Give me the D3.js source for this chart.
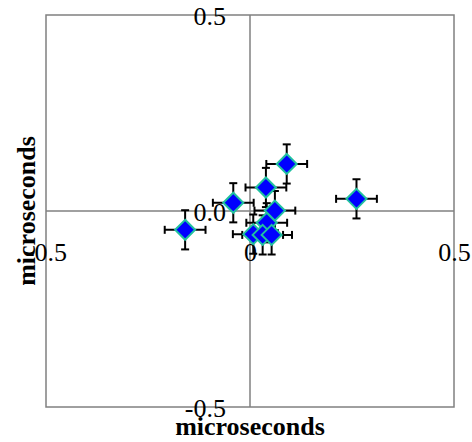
<!DOCTYPE html>
<html>
<head>
<meta charset="utf-8">
<script src="https://cdn.jsdelivr.net/npm/d3@7"></script>
<style>
  body { margin: 0; background: #fff; }
  svg { display: block; }
</style>
</head>
<body>
<div id="container"></div>
<script>
"use strict";

// Point positions (microseconds) and their errors.
const xValues = [-0.159, -0.041, 0.039, 0.090, 0.261, 0.061, 0.041, 0.008, 0.031, 0.053];
const yValues = [-0.048, 0.021, 0.060, 0.120, 0.031, 0.001, -0.030, -0.059, -0.061, -0.061];
const xErrors = [0.05, 0.05, 0.05, 0.05, 0.05, 0.05, 0.05, 0.05, 0.05, 0.05];
const yErrors = [0.05, 0.05, 0.05, 0.05, 0.05, 0.05, 0.05, 0.05, 0.05, 0.05];

const xTicks = [-0.5, 0, 0.5];
const xTickLabels = ["-0.5", "0", "0.5"];
const yTicks = [-0.5, 0, 0.5];
const yTickLabels = ["-0.5", "0.0", "0.5"];
const axisTitle = "microseconds";

const width = 472;
const height = 442;
const font = "'Liberation Serif', 'Times New Roman', serif";
const gridColor = "#808080";

const svg = d3.create("svg").attr("width", width).attr("height", height);
d3.select("#container").append(() => svg.node());

const x = d3.scaleLinear().domain([-0.5, 0.5]).range([46, 454]);
const y = d3.scaleLinear().domain([-0.5, 0.5]).range([407, 15]);

// Frame and the two zero lines.
svg.append("rect")
  .attr("x", x(-0.5))
  .attr("y", y(0.5))
  .attr("width", x(0.5) - x(-0.5))
  .attr("height", y(-0.5) - y(0.5))
  .attr("fill", "none")
  .attr("stroke", gridColor)
  .attr("stroke-width", 1.5);

svg.append("line")
  .attr("x1", x(0)).attr("x2", x(0))
  .attr("y1", y(0.5)).attr("y2", y(-0.5))
  .attr("stroke", gridColor).attr("stroke-width", 1.5);

svg.append("line")
  .attr("x1", x(-0.5)).attr("x2", x(0.5))
  .attr("y1", y(0)).attr("y2", y(0))
  .attr("stroke", gridColor).attr("stroke-width", 1.5);

// Tick labels, positioned off the zero lines.
const yAxis = d3.axisLeft(y)
  .tickValues(yTicks)
  .tickFormat((d, i) => yTickLabels[i])
  .tickSize(0)
  .tickPadding(24);

svg.append("g")
  .attr("transform", `translate(${x(0)}, 0)`)
  .call(yAxis)
  .call((g) => g.select(".domain").remove())
  .selectAll("text")
  .attr("dy", "0.36em")
  .style("font-family", font)
  .style("font-size", "26px")
  .attr("fill", "#000");

const xAxis = d3.axisBottom(x)
  .tickValues(xTicks)
  .tickFormat((d, i) => xTickLabels[i])
  .tickSize(0)
  .tickPadding(32);

svg.append("g")
  .attr("transform", `translate(0, ${y(0)})`)
  .call(xAxis)
  .call((g) => g.select(".domain").remove())
  .selectAll("text")
  .style("font-family", font)
  .style("font-size", "26px")
  .attr("fill", "#000");

const points = xValues.map((v, i) => ({ x: v, y: yValues[i], ex: xErrors[i], ey: yErrors[i] }));

// Error bars with caps.
const cap = 4;
const bars = svg.append("g").attr("stroke", "#000").attr("stroke-width", 2);
for (const p of points) {
  const cx = x(p.x);
  const cy = y(p.y);
  bars.append("line").attr("x1", x(p.x - p.ex)).attr("x2", x(p.x + p.ex)).attr("y1", cy).attr("y2", cy);
  bars.append("line").attr("x1", x(p.x - p.ex)).attr("x2", x(p.x - p.ex)).attr("y1", cy - cap).attr("y2", cy + cap);
  bars.append("line").attr("x1", x(p.x + p.ex)).attr("x2", x(p.x + p.ex)).attr("y1", cy - cap).attr("y2", cy + cap);
  bars.append("line").attr("x1", cx).attr("x2", cx).attr("y1", y(p.y - p.ey)).attr("y2", y(p.y + p.ey));
  bars.append("line").attr("x1", cx - cap).attr("x2", cx + cap).attr("y1", y(p.y - p.ey)).attr("y2", y(p.y - p.ey));
  bars.append("line").attr("x1", cx - cap).attr("x2", cx + cap).attr("y1", y(p.y + p.ey)).attr("y2", y(p.y + p.ey));
}

// Diamond markers.
const r = 10;
svg.append("g")
  .selectAll("path")
  .data(points)
  .enter()
  .append("path")
  .attr("d", (d) => {
    const cx = x(d.x);
    const cy = y(d.y);
    return `M${cx},${cy - r}L${cx + r},${cy}L${cx},${cy + r}L${cx - r},${cy}Z`;
  })
  .attr("fill", "#0000ff")
  .attr("stroke", "#20c0a0")
  .attr("stroke-width", 2);

// Axis titles.
svg.append("text")
  .attr("x", x(0))
  .attr("y", 435)
  .attr("text-anchor", "middle")
  .style("font-family", font)
  .style("font-size", "26px")
  .style("font-weight", "bold")
  .text(axisTitle);

svg.append("text")
  .attr("transform", `translate(35, ${y(0)}) rotate(-90)`)
  .attr("text-anchor", "middle")
  .style("font-family", font)
  .style("font-size", "26px")
  .style("font-weight", "bold")
  .text(axisTitle);
</script>
</body>
</html>
